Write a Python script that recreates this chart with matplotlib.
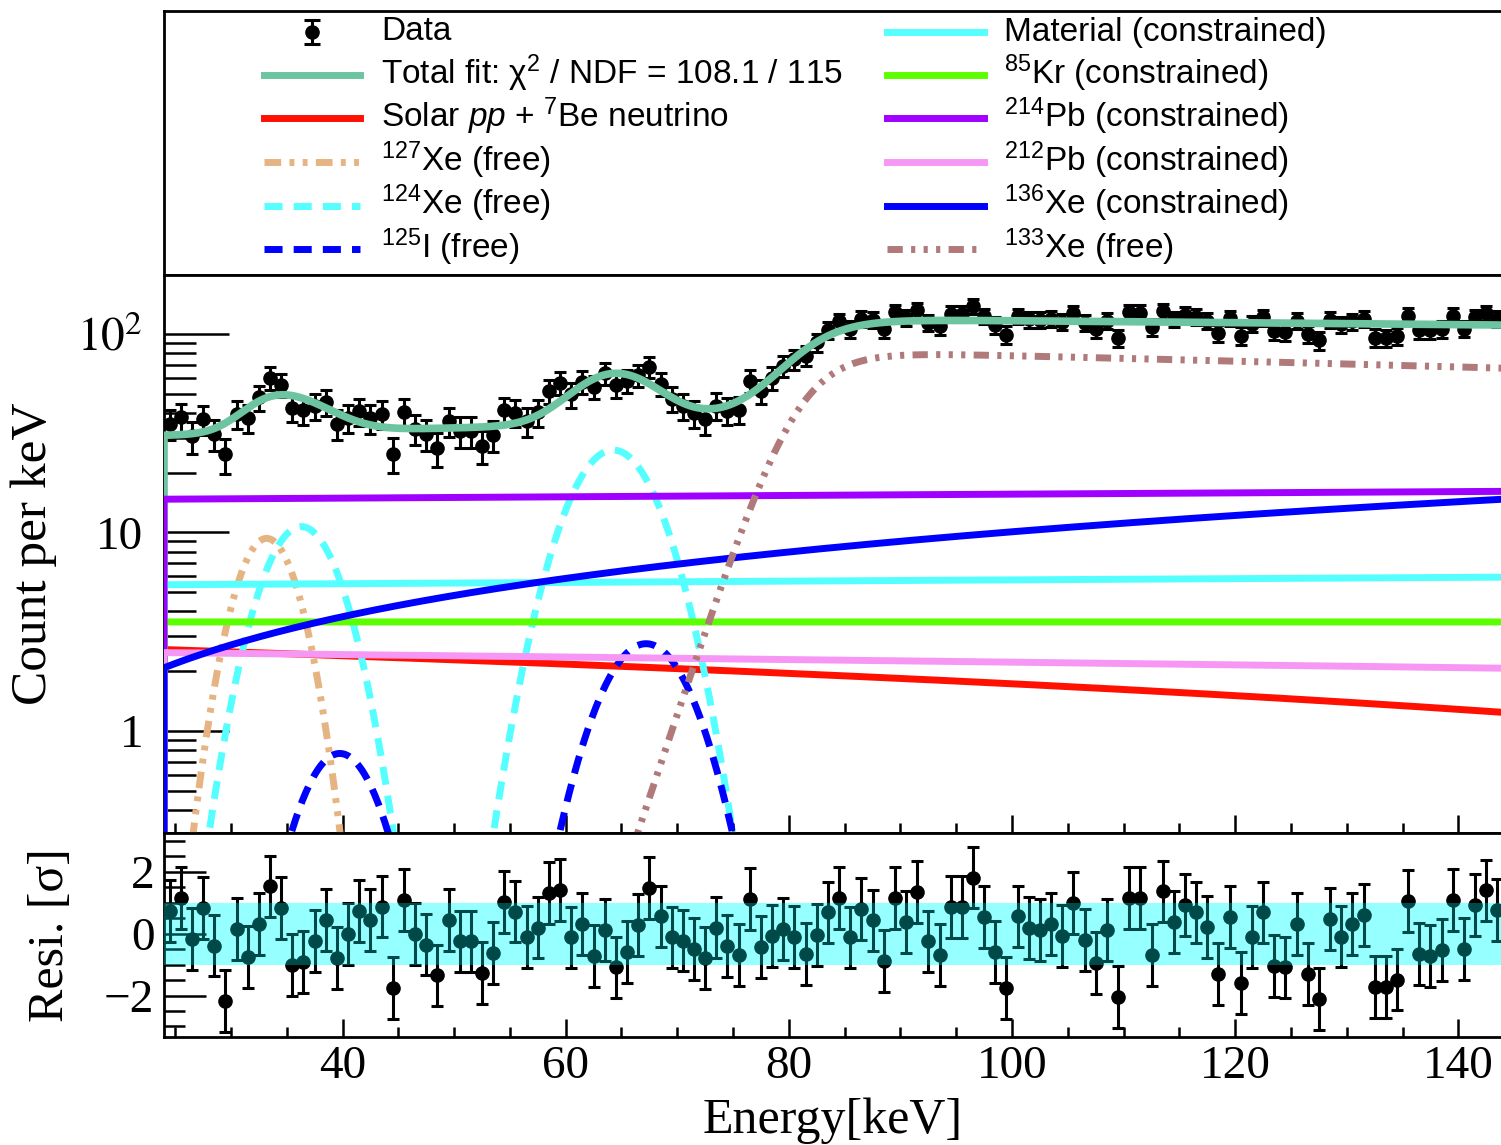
import numpy as np
import matplotlib
matplotlib.use("Agg")
import matplotlib.pyplot as plt
from matplotlib.ticker import LogLocator, MultipleLocator, NullFormatter, FixedLocator

plt.rcParams['font.family'] = ['Liberation Sans', 'DejaVu Sans']
plt.rcParams['mathtext.fontset'] = 'custom'
plt.rcParams['mathtext.rm'] = 'Liberation Sans'
plt.rcParams['mathtext.it'] = 'Liberation Sans:italic'
plt.rcParams['mathtext.bf'] = 'Liberation Sans:bold'

#binning: 1 keV bins
#____________________
e_lo, e_hi = 24.0, 144.0
e_bins = np.arange(24.5, 144.0, 1.0)

# residuals (data - fit)/sigma
resid = [0.74, 1.17, -0.17, 0.83, -0.38, -2.18, 0.16, -0.76, 0.31, 1.53,
         0.83, -1.00, -0.92, -0.23, 0.45, -0.78, 0.00, 0.74, 0.45, 0.88,
         -1.75, 1.10, -0.01, -0.35, -1.35, 0.45, -0.25, -0.25, -1.27, -0.62,
         1.02, 0.72, -0.11, 0.20, 1.31, 1.42, -0.12, 0.31, -0.71, 0.13,
         -1.09, -0.60, 0.29, 1.47, 0.56, -0.12, -0.22, -0.48, -0.78, 0.20,
         -0.39, -0.70, 1.13, -0.43, -0.06, 0.15, -0.11, -0.65, -0.03, 0.69,
         1.17, -0.12, 0.81, 0.43, -0.87, 1.17, 0.38, 1.34, -0.25, -0.70,
         0.86, 0.86, 1.82, 0.53, -0.59, -1.76, 0.56, 0.18, 0.13, 0.31,
         -0.06, 0.99, -0.19, -0.95, 0.11, -2.05, 1.15, 1.15, -0.68, 1.37,
         0.37, 0.94, 0.69, 0.22, -1.29, 0.54, -1.59, -0.11, 0.69, -1.03,
         -1.09, 0.32, -1.30, -2.11, 0.47, -0.09, 0.31, 0.61, -1.72, -1.72,
         -1.48, 1.06, -0.66, -0.73, -0.52, 1.10, -0.48, 0.94, 1.40, 0.77]

# slowly varying components: counts per keV at 24 keV and at 144 keV
solar = [2.57, 1.24]
material = [5.45, 5.95]
kr85 = [3.54, 3.54]
pb214 = [14.7, 16.1]
pb212 = [2.48, 2.07]
xe136 = [2.08, 14.7]

# peaks: (height, mean keV, sigma keV)
xe127_peaks = [(9.33, 33.2, 2.52)]
xe124_peaks = [(10.7, 36.3, 3.1), (26.0, 64.25, 3.6)]
i125_peaks = [(0.77, 39.75, 3.2), (2.75, 67.2, 3.7)]

# 133Xe: edge position, edge width (keV); plateau at 90 keV and 144 keV
xe133_edge = [80.8, 2.55]
xe133_plateau = [80.0, 67.2]

chi2_text = 'Total fit: χ$^{2}$ / NDF = 108.1 / 115'


def linear(par, e):
    return par[0] + (par[1] - par[0]) * (e - e_lo) / (e_hi - e_lo)


def peaks(par, e):
    out = np.zeros_like(e)
    for a, m, s in par:
        out = out + a * np.exp(-(e - m) ** 2 / (2 * s ** 2))
    return out


def xe133(e):
    plateau = xe133_plateau[0] + (xe133_plateau[1] - xe133_plateau[0]) * (e - 90.0) / 54.0
    return plateau / (1 + np.exp(-(e - xe133_edge[0]) / xe133_edge[1]))


def total(e):
    return (linear(solar, e) + linear(material, e) + linear(kr85, e) + linear(pb214, e)
            + linear(pb212, e) + linear(xe136, e) + peaks(xe127_peaks, e)
            + peaks(xe124_peaks, e) + peaks(i125_peaks, e) + xe133(e))


# data counts from the fit and the residuals (Poisson sigma = sqrt(N))
r = np.array(resid)
fit_b = total(e_bins)
sq = (r + np.sqrt(r ** 2 + 4 * fit_b)) / 2
data = sq ** 2
data_err = sq

#figure
#____________________
W, H = 1501, 1145
fig = plt.figure(figsize=(W / 100, H / 100), dpi=100)
x0 = 164 / W
xw = (1503 - 164) / W
ax_leg = fig.add_axes([x0, (H - 275) / H, xw, (275 - 11) / H])
ax = fig.add_axes([x0, (H - 833.3) / H, xw, (833.3 - 275) / H])
ax_r = fig.add_axes([x0, (H - 1036.7) / H, xw, (1036.7 - 833.3) / H])

ymin, ymax = 0.305, 198.0
egrid = np.linspace(e_lo, e_hi, 1201)


def edged(y):
    # ROOT-like drawing: the curve drops to the bottom at both ends
    return np.r_[e_lo, egrid, e_hi], np.r_[1e-3, y, 1e-3]


dash = (0, (2.6, 1.6))
dash_dot2 = (0, (2.4, 1.2, 0.7, 1.2, 0.7, 1.2))
dash_dot3 = (0, (2.2, 1.2, 0.6, 1.2, 0.6, 1.2, 0.6, 1.2))

c_total = '#6cc4a0'
c_solar = '#ff1000'
c_127 = '#e6b482'
c_cyan = '#55ffff'
c_blue = '#0000ff'
c_kr = '#5cff00'
c_214 = '#a000ff'
c_212 = '#f797f5'
c_133 = '#b07a7a'

components = [
    (linear(solar, egrid), c_solar, '-'),
    (peaks(xe127_peaks, egrid), c_127, dash_dot2),
    (peaks(xe124_peaks, egrid), c_cyan, dash),
    (peaks(i125_peaks, egrid), c_blue, dash),
    (linear(material, egrid), c_cyan, '-'),
    (linear(kr85, egrid), c_kr, '-'),
    (linear(pb214, egrid), c_214, '-'),
    (linear(pb212, egrid), c_212, '-'),
    (linear(xe136, egrid), c_blue, '-'),
    (xe133(egrid), c_133, dash_dot3),
]

ax.errorbar(e_bins, data, yerr=data_err, fmt='o', color='k', ms=9.5,
            elinewidth=2.2, capsize=4.5, capthick=2.2, zorder=2)
xx, yy = edged(total(egrid))
ax.plot(xx, yy, color=c_total, lw=5.5, zorder=3)
for k, (y, c, ls) in enumerate(components):
    xx, yy = edged(y)
    ax.plot(xx, yy, color=c, lw=5, linestyle=ls, zorder=4 + k * 0.01)

ax.set_yscale('log')
ax.set_xlim(e_lo, e_hi)
ax.set_ylim(ymin, ymax)
ax.yaxis.set_major_locator(FixedLocator([1, 10, 100]))
ax.yaxis.set_minor_locator(LogLocator(base=10, subs=np.arange(2, 10)))
ax.yaxis.set_minor_formatter(NullFormatter())
ax.set_yticklabels(['1', '10', '$10^{2}$'], fontsize=34, family='Liberation Serif',
                   math_fontfamily='stix')
ax.xaxis.set_major_locator(MultipleLocator(20))
ax.xaxis.set_minor_locator(MultipleLocator(5))
ax.tick_params(axis='x', which='both', direction='in', labelbottom=False, width=1.8)
ax.tick_params(axis='x', which='major', length=13)
ax.tick_params(axis='x', which='minor', length=7)
ax.tick_params(axis='y', which='both', direction='in', width=1.8, pad=15)
ax.tick_params(axis='y', which='major', length=47)
ax.tick_params(axis='y', which='minor', length=23)
ax.set_ylabel('Count per keV', fontsize=37, family='Liberation Serif')
ax.yaxis.set_label_coords(-0.080, 0.5)

# residual panel: light band under the points, darker veil over them
ax_r.axhspan(-1, 1, color='cyan', alpha=0.17, lw=0, zorder=1)
ax_r.errorbar(e_bins, resid, yerr=1, fmt='o', color='k', ms=9.5,
              elinewidth=2.2, capsize=4.5, capthick=2.2, zorder=2)
ax_r.axhspan(-1, 1, color='cyan', alpha=0.29, lw=0, zorder=5)
ax_r.set_xlim(e_lo, e_hi)
ax_r.set_ylim(-3.33, 3.25)
ax_r.yaxis.set_major_locator(FixedLocator([-2, 0, 2]))
ax_r.yaxis.set_minor_locator(MultipleLocator(0.5))
ax_r.xaxis.set_major_locator(MultipleLocator(20))
ax_r.xaxis.set_minor_locator(MultipleLocator(5))
ax_r.tick_params(axis='x', which='both', direction='in', width=1.8, labelsize=34, pad=6)
ax_r.tick_params(axis='x', which='major', length=13)
ax_r.tick_params(axis='x', which='minor', length=7)
ax_r.tick_params(axis='y', which='both', direction='in', width=1.8, labelsize=34, pad=7)
ax_r.tick_params(axis='y', which='major', length=30)
ax_r.tick_params(axis='y', which='minor', length=15)
for lab in ax_r.get_xticklabels() + ax_r.get_yticklabels():
    lab.set_family('Liberation Serif')
ax_r.set_ylabel('Resi. [σ]', fontsize=36, family='Liberation Serif')
ax_r.yaxis.set_label_coords(-0.067, 0.5)
ax_r.set_xlabel('Energy[keV]', fontsize=36, family='Liberation Serif')
ax_r.xaxis.set_label_coords(0.499, -0.30)

for a in (ax, ax_r, ax_leg):
    for s in a.spines.values():
        s.set_linewidth(2.0)

# legend box
ax_leg.set_xlim(164, 1503)
ax_leg.set_ylim(275, 11)
ax_leg.set_xticks([])
ax_leg.set_yticks([])
rows = [31.5, 75, 118.3, 162, 205.5, 249]
left_entries = [
    (None, None, 'Data'),
    (c_total, '-', chi2_text),
    (c_solar, '-', 'Solar $pp$ + $^{7}$Be neutrino'),
    (c_127, dash_dot2, '$^{127}$Xe (free)'),
    (c_cyan, dash, '$^{124}$Xe (free)'),
    (c_blue, dash, '$^{125}$I (free)'),
]
right_entries = [
    (c_cyan, '-', 'Material (constrained)'),
    (c_kr, '-', '$^{85}$Kr (constrained)'),
    (c_214, '-', '$^{214}$Pb (constrained)'),
    (c_212, '-', '$^{212}$Pb (constrained)'),
    (c_blue, '-', '$^{136}$Xe (constrained)'),
    (c_133, dash_dot3, '$^{133}$Xe (free)'),
]
for entries, hx0, hx1, tx in ((left_entries, 264, 360, 381), (right_entries, 887, 984, 1004)):
    for yrow, (c, ls, label) in zip(rows, entries):
        if c is None:
            ax_leg.errorbar([(hx0 + hx1) / 2], [yrow], yerr=[12], fmt='o', color='k',
                            ms=9.5, elinewidth=2.2, capsize=6, capthick=2.2)
        else:
            ax_leg.plot([hx0, hx1], [yrow, yrow], color=c, lw=5, linestyle=ls)
        ax_leg.text(tx, yrow + 9, label, fontsize=24, va='baseline', ha='left')

fig.savefig('out.png', dpi=100)
